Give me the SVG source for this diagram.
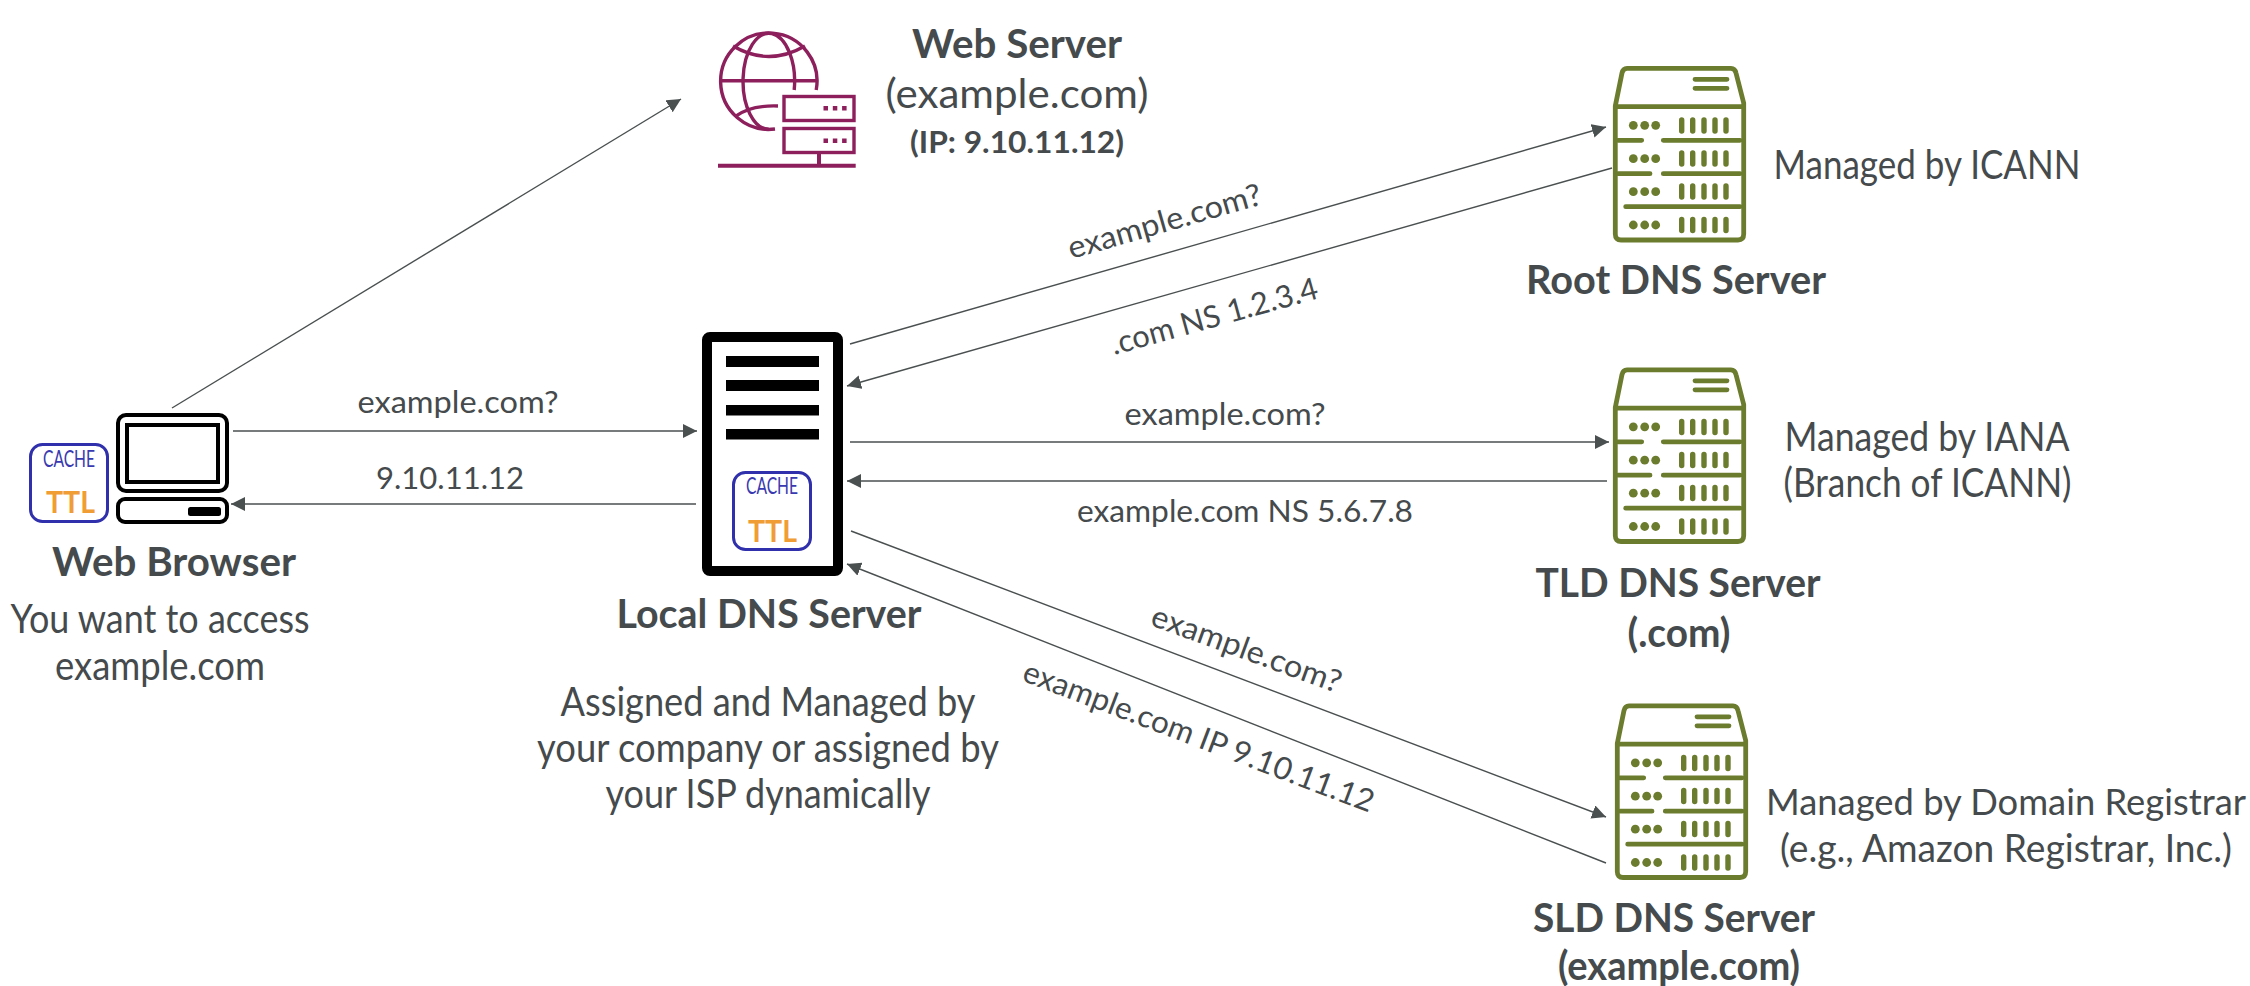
<svg xmlns="http://www.w3.org/2000/svg" width="2250" height="986" viewBox="0 0 2250 986">
<style>
text{font-family:"Lato","Liberation Sans",sans-serif;fill:#454a4c;text-anchor:middle}
.b{font-size:40px;font-weight:700}
.r{font-size:40px}
.n{font-size:36.5px}
.n2{font-size:38px}
.s{font-size:31px}
.ip{font-size:31px;font-weight:700}
.c{stroke:#4a4f50;stroke-width:1.4;fill:none;marker-end:url(#arrow)}
.cache{font-size:23px;fill:#3a3ab0}
.ttl{font-size:31px;font-weight:700;fill:#f09d36}
.box{fill:#fff;stroke:#3030ac;stroke-width:3}
.k{fill:none;stroke:#000;stroke-width:4}
.o{fill:none;stroke:#6b7c2e;stroke-width:4.8;stroke-linecap:round;stroke-linejoin:round}
.ob{stroke:#6b7c2e;stroke-width:5.4;stroke-linecap:round;fill:none}
.m{fill:none;stroke:#8c1f5c;stroke-width:3.4}
</style>
<defs>
<marker id="arrow" markerUnits="userSpaceOnUse" markerWidth="14" markerHeight="14" viewBox="0 0 14 14" refX="14" refY="7" orient="auto"><polygon points="0,0 14,7 0,14" fill="#4a4f50"/></marker>
<g id="srv">
<path class="o" d="M2.3 40L9 7Q10 2.3 14 2.3H118Q122 2.3 123 7L130.7 37V168Q130.7 174 125 174H8Q2.3 174 2.3 168Z"/>
<path class="o" d="M2.3 40.7H130.7M82 13.3H114M82 22.3H114M5 74.3H28.7M50.3 74.3H127M5 107.7H37M50.3 107.7H127M12.7 140.7H127"/>
<g fill="#6b7c2e">
<circle cx="20.3" cy="59.3" r="4.4"/><circle cx="31.7" cy="59.3" r="4.4"/><circle cx="42.7" cy="59.3" r="4.4"/>
<circle cx="20.3" cy="92.7" r="4.4"/><circle cx="31.7" cy="92.7" r="4.4"/><circle cx="42.7" cy="92.7" r="4.4"/>
<circle cx="20.3" cy="125.7" r="4.4"/><circle cx="31.7" cy="125.7" r="4.4"/><circle cx="42.7" cy="125.7" r="4.4"/>
<circle cx="20.3" cy="159" r="4.4"/><circle cx="31.7" cy="159" r="4.4"/><circle cx="42.7" cy="159" r="4.4"/>
</g>
<path class="ob" d="M68.7 54V65M79.7 54V65M91 54V65M102 54V65M113 54V65M68.7 87V98M79.7 87V98M91 87V98M102 87V98M113 87V98M68.7 120V131M79.7 120V131M91 120V131M102 120V131M113 120V131M68.7 153.500V164.500M79.700 153.500V164.500M91 153.500V164.500M102 153.500V164.500M113 153.500V164.500"/>
</g>
</defs>
<rect width="2250" height="986" fill="#fff"/>
<g id="connectors">
<line class="c" x1="172" y1="408" x2="681" y2="99"/>
<line class="c" x1="233" y1="431" x2="697" y2="431"/>
<line class="c" x1="696" y1="504" x2="231" y2="504"/>
<line class="c" x1="850" y1="344" x2="1606" y2="127"/>
<line class="c" x1="1612" y1="168" x2="847" y2="386"/>
<line class="c" x1="850" y1="442" x2="1609" y2="442"/>
<line class="c" x1="1607" y1="481" x2="847" y2="481"/>
<line class="c" x1="851" y1="531" x2="1606" y2="817"/>
<line class="c" x1="1606" y1="863" x2="847" y2="564"/>
</g>
<g id="connector-labels">
<text class="s" x="458" y="413" textLength="201" lengthAdjust="spacingAndGlyphs">example.com?</text>
<text class="s" x="450" y="489" textLength="148" lengthAdjust="spacingAndGlyphs">9.10.11.12</text>
<text class="s" transform="translate(1167.500 231.500) rotate(-16)" textLength="200" lengthAdjust="spacingAndGlyphs">example.com?</text>
<text class="s" transform="translate(1217 326.500) rotate(-15.500)" textLength="214" lengthAdjust="spacingAndGlyphs">.com NS 1.2.3.4</text>
<text class="s" x="1225" y="425" textLength="201" lengthAdjust="spacingAndGlyphs">example.com?</text>
<text class="s" x="1245" y="522" textLength="336" lengthAdjust="spacingAndGlyphs">example.com NS 5.6.7.8</text>
<text class="s" transform="translate(1243 659) rotate(20)" textLength="200" lengthAdjust="spacingAndGlyphs">example.com?</text>
<text class="s" transform="translate(1195 746.500) rotate(20.800)" textLength="373" lengthAdjust="spacingAndGlyphs">example.com IP 9.10.11.12</text>
</g>
<g id="web-browser">
<rect class="k" x="118" y="415" width="109" height="76" rx="8"/>
<rect class="k" x="127" y="425" width="91" height="57"/>
<rect class="k" x="118" y="499" width="109" height="23" rx="7"/>
<rect x="188" y="507" width="33" height="9" rx="2.500" fill="#000"/>
<rect class="box" x="30.500" y="444.500" width="77" height="77" rx="12"/>
<text class="cache" x="69" y="467" textLength="52" lengthAdjust="spacingAndGlyphs">CACHE</text>
<text class="ttl" x="70.500" y="513" textLength="49" lengthAdjust="spacingAndGlyphs">TTL</text>
<text class="b" x="174" y="576" textLength="244" lengthAdjust="spacingAndGlyphs">Web Browser</text>
<text class="r" x="160" y="633" textLength="299" lengthAdjust="spacingAndGlyphs">You want to access</text>
<text class="r" x="160" y="680" textLength="210" lengthAdjust="spacingAndGlyphs">example.com</text>
</g>
<g id="web-server">
<path class="m" d="M775 129A48.200 48.200 0 1 1 816.200 90"/>
<path class="m" d="M768.800 129.300A25.800 48 0 1 1 794.200 90"/>
<path class="m" d="M720.600 80.700H816.500M733 46Q768.800 67 805 46M735 116.700Q750 105 778 106"/>
<rect class="m" x="784" y="96.500" width="70" height="24"/>
<rect class="m" x="784" y="128.500" width="70" height="24"/>
<path d="M823.500 108.300h4.500M832.800 108.300h4.500M842.100 108.300h4.500M823.500 140.700h4.500M832.800 140.700h4.500M842.100 140.700h4.500" stroke="#8c1f5c" stroke-width="4.500" fill="none"/>
<path class="m" d="M819 153V165.700M718 165.700H855.700" style="stroke-width:4"/>
<text class="b" x="1017" y="58" textLength="210" lengthAdjust="spacingAndGlyphs">Web Server</text>
<text class="r" x="1017" y="108" textLength="263" lengthAdjust="spacingAndGlyphs">(example.com)</text>
<text class="ip" x="1017" y="153" textLength="214" lengthAdjust="spacingAndGlyphs">(IP: 9.10.11.12)</text>
</g>
<g id="local-dns-server">
<rect x="707" y="337" width="131" height="234" rx="3" fill="#fff" stroke="#000" stroke-width="10"/>
<g fill="#000">
<rect x="726" y="356" width="93" height="11"/>
<rect x="726" y="380" width="93" height="11"/>
<rect x="726" y="405" width="93" height="10.500"/>
<rect x="726" y="429" width="93" height="10.500"/>
</g>
<rect class="box" x="733.500" y="472.500" width="77" height="77" rx="12"/>
<text class="cache" x="772" y="494" textLength="52" lengthAdjust="spacingAndGlyphs">CACHE</text>
<text class="ttl" x="772.500" y="542" textLength="49" lengthAdjust="spacingAndGlyphs">TTL</text>
<text class="b" x="769" y="628" textLength="305" lengthAdjust="spacingAndGlyphs">Local DNS Server</text>
<text class="r" x="768" y="716" textLength="415" lengthAdjust="spacingAndGlyphs">Assigned and Managed by</text>
<text class="r" x="768" y="762" textLength="462" lengthAdjust="spacingAndGlyphs">your company or assigned by</text>
<text class="r" x="768" y="808" textLength="325" lengthAdjust="spacingAndGlyphs">your ISP dynamically</text>
</g>
<g id="root-dns-server">
<use href="#srv" x="1613" y="66"/>
<text class="b" x="1676" y="294" textLength="300" lengthAdjust="spacingAndGlyphs">Root DNS Server</text>
<text class="r" x="1927" y="179" textLength="307" lengthAdjust="spacingAndGlyphs">Managed by ICANN</text>
</g>
<g id="tld-dns-server">
<use href="#srv" x="1613" y="367.500"/>
<text class="b" x="1678" y="597" textLength="285" lengthAdjust="spacingAndGlyphs">TLD DNS Server</text>
<text class="b" x="1679" y="647" textLength="103" lengthAdjust="spacingAndGlyphs">(.com)</text>
<text class="r" x="1927" y="451" textLength="285" lengthAdjust="spacingAndGlyphs">Managed by IANA</text>
<text class="r" x="1927.500" y="497" textLength="288" lengthAdjust="spacingAndGlyphs">(Branch of ICANN)</text>
</g>
<g id="sld-dns-server">
<use href="#srv" x="1615" y="703.500"/>
<text class="b" x="1674" y="932" textLength="282" lengthAdjust="spacingAndGlyphs">SLD DNS Server</text>
<text class="b" x="1679" y="980" textLength="242" lengthAdjust="spacingAndGlyphs">(example.com)</text>
<text class="n" x="2006" y="815" textLength="480" lengthAdjust="spacingAndGlyphs">Managed by Domain Registrar</text>
<text class="n2" x="2006" y="862" textLength="452" lengthAdjust="spacingAndGlyphs">(e.g., Amazon Registrar, Inc.)</text>
</g>
</svg>
